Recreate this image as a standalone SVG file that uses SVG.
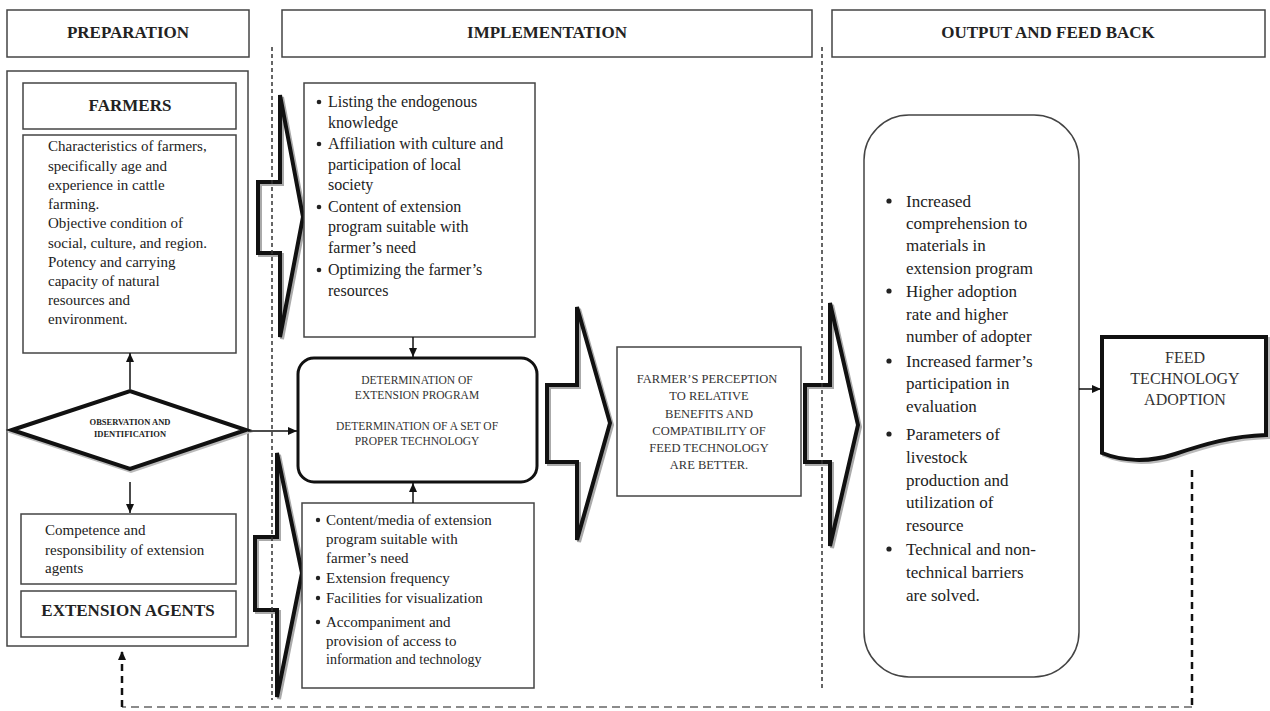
<svg xmlns="http://www.w3.org/2000/svg" xmlns:xlink="http://www.w3.org/1999/xlink" width="1270" height="711" viewBox="0 0 1270 711">
<style>
  .box{fill:#fff;stroke:#444;stroke-width:1.5}
  .t{font-family:"Liberation Serif","Times New Roman",serif;fill:#222}
  .hd{font-size:17px;font-weight:bold;text-anchor:middle}
  .b15{font-size:15px}
  .b16{font-size:16px}
  .b17{font-size:17px}
  .cap{text-anchor:middle;fill:#333}
  .blk{fill:none;stroke:#111;stroke-width:4;stroke-linejoin:miter}
  .shd{fill:none;stroke:#aaa;stroke-width:4;stroke-linejoin:miter}
  .con{stroke:#111;stroke-width:1.5;fill:none}
  .sep{stroke:#333;stroke-width:1.5;stroke-dasharray:4 3}
  .dot{fill:#222}
</style>
<defs>
  <marker id="ah" markerWidth="10" markerHeight="10" refX="9" refY="5" orient="auto" markerUnits="userSpaceOnUse">
    <path d="M0,1 L9,5 L0,9 Z" fill="#111"/>
  </marker>
  <path id="arrA" d="M258,182 L280,182 L280,95 L303,217 L280,337 L280,253 L258,253 Z"/>
  <path id="arrB" d="M255,537 L277,537 L277,453 L302,573 L277,697 L277,610 L255,610 Z"/>
  <path id="arrC" d="M547,385 L577,385 L577,307 L610,423 L577,540 L577,462 L547,462 Z"/>
  <path id="arrD" d="M805,385 L830,385 L830,303 L858,425 L830,546 L830,462 L805,462 Z"/>
</defs>

<rect width="1270" height="711" fill="#fff"/>

<!-- headers -->
<g id="hdr-prep"><rect class="box" x="7" y="10" width="242" height="47"/><text class="t hd" x="128" y="38">PREPARATION</text></g>
<g id="hdr-impl"><rect class="box" x="282" y="10" width="530" height="47"/><text class="t hd" x="547" y="38">IMPLEMENTATION</text></g>
<g id="hdr-out"><rect class="box" x="832" y="10" width="433" height="47"/><text class="t hd" x="1048" y="38">OUTPUT AND FEED BACK</text></g>

<!-- preparation column -->
<g id="prep-frame"><rect class="box" x="7" y="71" width="241" height="575"/></g>
<g id="farmers"><rect class="box" x="23" y="83" width="213" height="46"/><text class="t hd" x="130" y="111">FARMERS</text></g>
<g id="farmer-chars">
  <rect class="box" x="23" y="135" width="213" height="218"/>
  <text class="t b15" x="48">
    <tspan x="48" y="151">Characteristics of farmers,</tspan>
    <tspan x="48" y="171">specifically age and</tspan>
    <tspan x="48" y="190">experience in cattle</tspan>
    <tspan x="48" y="209">farming.</tspan>
    <tspan x="48" y="228">Objective condition of</tspan>
    <tspan x="48" y="248">social, culture, and region.</tspan>
    <tspan x="48" y="267">Potency and carrying</tspan>
    <tspan x="48" y="286">capacity of natural</tspan>
    <tspan x="48" y="305">resources and</tspan>
    <tspan x="48" y="324">environment.</tspan>
  </text>
</g>
<g id="observation">
  <polygon points="12,430 130,391 246,430 130,469" fill="none" stroke="#bbb" stroke-width="4" transform="translate(1,2)"/>
  <polygon points="12,430 130,391 246,430 130,469" fill="#fff" stroke="#111" stroke-width="4"/>
  <text class="t" x="130" y="425" font-size="8.5" font-weight="bold" text-anchor="middle">OBSERVATION AND</text>
  <text class="t" x="130" y="437" font-size="8.5" font-weight="bold" text-anchor="middle">IDENTIFICATION</text>
</g>
<g id="agent-comp">
  <rect class="box" x="21" y="514" width="215" height="70"/>
  <text class="t b15"><tspan x="45" y="535">Competence and</tspan><tspan x="45" y="555">responsibility of extension</tspan><tspan x="45" y="573">agents</tspan></text>
</g>
<g id="ext-agents"><rect class="box" x="21" y="591" width="215" height="46"/><text class="t hd" x="128" y="616">EXTENSION AGENTS</text></g>

<!-- block arrows -->
<g id="block-arrows">
  <use xlink:href="#arrA" class="shd" transform="translate(2,2)"/>
  <use xlink:href="#arrA" class="blk"/>
  <use xlink:href="#arrB" class="shd" transform="translate(2,2)"/>
  <use xlink:href="#arrB" class="blk"/>
  <use xlink:href="#arrC" class="shd" transform="translate(2,2)"/>
  <use xlink:href="#arrC" class="blk"/>
  <use xlink:href="#arrD" class="shd" transform="translate(2,2)"/>
  <use xlink:href="#arrD" class="blk"/>
</g>

<!-- separators -->
<g id="separators">
  <line class="sep" x1="272" y1="47" x2="272" y2="700"/>
  <line class="sep" x1="822" y1="47" x2="822" y2="690"/>
</g>

<!-- implementation -->
<g id="impl-top">
  <rect class="box" x="304" y="83" width="231" height="254"/>
  <g class="dot">
    <circle cx="319" cy="102" r="2.3"/><circle cx="319" cy="144" r="2.3"/><circle cx="319" cy="207" r="2.3"/><circle cx="319" cy="270" r="2.3"/>
  </g>
  <g class="t b16">
    <text x="328" y="107">Listing the endogenous</text>
    <text x="328" y="128">knowledge</text>
    <text x="328" y="149">Affiliation with culture and</text>
    <text x="328" y="170">participation of local</text>
    <text x="328" y="190">society</text>
    <text x="328" y="212">Content of extension</text>
    <text x="328" y="232">program suitable with</text>
    <text x="328" y="253">farmer’s need</text>
    <text x="328" y="275">Optimizing the farmer’s</text>
    <text x="328" y="296">resources</text>
  </g>
</g>
<g id="determination">
  <rect x="298" y="358" width="239" height="124" rx="16" ry="16" fill="#fff" stroke="#111" stroke-width="3"/>
  <g class="t cap" font-size="11.5">
    <text x="417" y="384">DETERMINATION OF</text>
    <text x="417" y="399">EXTENSION PROGRAM</text>
    <text x="417" y="430">DETERMINATION OF A SET OF</text>
    <text x="417" y="445">PROPER TECHNOLOGY</text>
  </g>
</g>
<g id="impl-bottom">
  <rect class="box" x="302" y="503" width="232" height="185"/>
  <g class="dot">
    <circle cx="318" cy="520" r="2.2"/><circle cx="318" cy="578" r="2.2"/><circle cx="318" cy="598" r="2.2"/><circle cx="318" cy="622" r="2.2"/>
  </g>
  <g class="t b15">
    <text x="326" y="525">Content/media of extension</text>
    <text x="326" y="544">program suitable with</text>
    <text x="326" y="563">farmer’s need</text>
    <text x="326" y="583">Extension frequency</text>
    <text x="326" y="603">Facilities for visualization</text>
    <text x="326" y="627">Accompaniment and</text>
    <text x="326" y="646">provision of access to</text>
    <text x="326" y="664" font-size="14">information and technology</text>
  </g>
</g>
<g id="perception">
  <rect class="box" x="617" y="347" width="184" height="149"/>
  <g class="t cap" font-size="12.5">
    <text x="707" y="383">FARMER’S PERCEPTION</text>
    <text x="709" y="400">TO RELATIVE</text>
    <text x="709" y="418">BENEFITS AND</text>
    <text x="709" y="435">COMPATIBILITY OF</text>
    <text x="709" y="452">FEED TECHNOLOGY</text>
    <text x="709" y="469">ARE BETTER.</text>
  </g>
</g>

<!-- output -->
<g id="outputs">
  <rect x="864" y="115" width="215" height="562" rx="45" ry="45" fill="#fff" stroke="#444" stroke-width="1.5"/>
  <g class="dot">
    <circle cx="889" cy="201" r="2.6"/><circle cx="889" cy="291" r="2.6"/><circle cx="889" cy="361" r="2.6"/><circle cx="889" cy="434" r="2.6"/><circle cx="889" cy="549" r="2.6"/>
  </g>
  <g class="t b17">
    <text x="906" y="207">Increased</text>
    <text x="906" y="229">comprehension to</text>
    <text x="906" y="251">materials in</text>
    <text x="906" y="274">extension program</text>
    <text x="906" y="297">Higher adoption</text>
    <text x="906" y="320">rate and higher</text>
    <text x="906" y="342">number of adopter</text>
    <text x="906" y="367">Increased farmer’s</text>
    <text x="906" y="389">participation in</text>
    <text x="906" y="412">evaluation</text>
    <text x="906" y="440">Parameters of</text>
    <text x="906" y="463">livestock</text>
    <text x="906" y="486">production and</text>
    <text x="906" y="508">utilization of</text>
    <text x="906" y="531">resource</text>
    <text x="906" y="555">Technical and non-</text>
    <text x="906" y="578">technical barriers</text>
    <text x="906" y="601">are solved.</text>
  </g>
</g>
<g id="adoption">
  <path d="M1102,337 L1266,337 L1266,435 C1232,436 1205,444 1175,454 C1148,463 1122,461 1102,453 Z" fill="none" stroke="#bbb" stroke-width="4" transform="translate(2,2)"/>
  <path d="M1102,337 L1266,337 L1266,435 C1232,436 1205,444 1175,454 C1148,463 1122,461 1102,453 Z" fill="#fff" stroke="#111" stroke-width="4"/>
  <g class="t cap" font-size="16">
    <text x="1185" y="363">FEED</text>
    <text x="1185" y="384">TECHNOLOGY</text>
    <text x="1185" y="405">ADOPTION</text>
  </g>
</g>

<!-- connectors -->
<g id="connectors">
  <line class="con" x1="130" y1="389" x2="130" y2="353" marker-end="url(#ah)"/>
  <line class="con" x1="130" y1="482" x2="130" y2="513" marker-end="url(#ah)"/>
  <line class="con" x1="248" y1="431" x2="297" y2="431" marker-end="url(#ah)"/>
  <line class="con" x1="413" y1="337" x2="413" y2="357" marker-end="url(#ah)"/>
  <line class="con" x1="413" y1="503" x2="413" y2="483" marker-end="url(#ah)"/>
  <line class="con" x1="1079" y1="389" x2="1101" y2="389" marker-end="url(#ah)"/>
  <path d="M1192,470 L1192,707" stroke="#111" stroke-width="2.5" stroke-dasharray="7 5" fill="none"/>
  <path d="M1192,707 L122,707" stroke="#666" stroke-width="1.5" stroke-dasharray="8 5" fill="none"/>
  <path d="M122,707 L122,651" stroke="#111" stroke-width="2.5" stroke-dasharray="7 5" fill="none" marker-end="url(#ah)"/>
</g>
</svg>
